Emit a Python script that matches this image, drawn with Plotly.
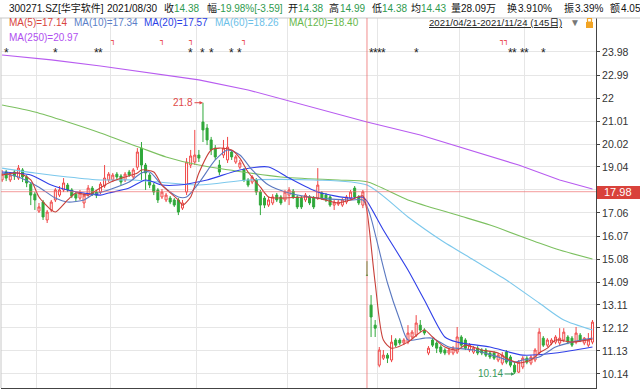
import plotly.graph_objects as go

# ---------------- data ----------------
open_ = [18.48,18.82,18.48,18.82,18.56,18.91,18.61,18.30,17.87,17.14,
         17.53,16.76,17.19,17.62,17.83,18.05,18.26,18.05,17.87,17.70,
         17.49,17.83,18.13,17.96,17.96,18.22,18.48,18.48,18.73,18.65,
         18.48,18.82,18.61,19.03,19.85,19.12,18.69,18.26,18.05,17.75,
         17.62,17.70,17.62,17.62,17.27,17.96,19.12,19.25,19.55,20.97,
         20.71,20.20,19.85,19.12,19.55,19.34,19.68,19.25,19.03,18.91,
         18.48,18.39,18.48,17.96,17.70,17.40,17.49,17.83,17.75,17.62,
         17.83,18.00,17.75,17.70,17.62,17.75,17.70,17.70,17.92,17.83,
         17.75,17.40,17.44,17.40,17.53,17.70,18.13,17.75,17.40,14.38,
         13.10,12.24,10.52,10.82,10.95,10.74,11.60,11.60,11.47,11.51,
         11.73,11.81,12.24,12.03,11.04,11.60,11.47,11.30,11.17,11.04,
         11.04,11.08,11.73,11.60,11.17,11.08,11.25,11.17,11.17,11.04,
         11.04,10.74,10.61,11.08,10.87,10.52,10.22,10.44,10.82,10.61,
         10.74,11.04,11.68,11.38,11.47,11.51,11.47,11.60,11.73,11.68,
         11.51,11.81,11.47,11.38,11.51]
high = [18.91,18.91,18.82,18.91,19.12,18.99,18.69,18.39,17.96,17.49,
        17.62,17.19,17.62,18.13,18.22,18.56,18.35,18.13,17.96,18.05,
        17.92,18.26,18.22,18.05,18.39,19.12,18.82,18.78,18.82,18.73,
        18.82,18.91,18.99,19.85,20.11,19.21,18.78,18.35,18.13,18.09,
        17.92,17.79,17.70,17.70,17.62,19.42,19.77,20.63,19.77,21.80,
        20.88,20.33,19.98,19.34,20.20,20.33,19.77,19.55,19.34,18.99,
        18.56,18.69,18.56,18.05,17.79,17.75,17.87,17.92,17.83,18.05,
        18.17,18.09,17.83,17.79,17.92,17.83,17.79,18.99,18.00,17.92,
        17.83,17.62,17.62,17.70,17.83,18.05,18.22,17.83,18.05,14.99,
        13.53,12.46,11.30,11.17,11.04,11.81,11.68,11.68,11.68,12.24,
        12.03,12.67,12.46,12.11,11.34,11.68,11.55,11.38,11.25,11.25,
        11.34,12.16,11.81,11.68,11.47,11.34,11.34,11.25,11.25,11.12,
        11.12,11.04,11.08,11.17,10.95,10.65,10.74,10.91,10.91,10.95,
        11.25,12.11,11.77,11.68,11.68,11.81,12.11,12.11,11.81,11.77,
        12.16,11.90,11.73,11.90,12.46]
low = [18.39,18.43,18.39,18.48,18.48,18.39,18.17,17.40,17.19,17.06,
       16.76,16.63,17.10,17.53,17.75,17.96,17.96,17.70,17.57,17.62,
       17.27,17.75,17.79,17.70,17.87,18.13,18.39,18.39,18.48,18.26,
       18.39,18.61,18.48,18.91,18.48,18.05,18.13,17.83,17.49,17.66,
       17.53,17.44,17.32,16.97,17.19,17.83,18.99,19.12,19.25,20.11,
       19.98,19.55,19.34,18.69,19.42,19.21,19.34,19.17,18.95,18.39,
       18.17,18.30,17.83,16.97,17.27,17.32,17.40,17.53,17.40,17.53,
       17.40,17.66,17.23,17.23,17.53,17.40,17.23,17.62,17.62,17.53,
       17.32,17.19,17.36,17.32,17.44,17.62,17.66,17.40,17.27,14.38,
       11.73,11.73,10.43,10.74,10.61,10.65,11.30,11.38,11.38,11.42,
       11.64,11.73,11.94,11.81,10.95,11.30,11.04,11.00,10.95,10.95,
       10.95,11.00,11.30,11.17,11.08,11.00,10.95,10.95,10.87,10.78,
       10.74,10.65,10.52,10.56,10.43,10.14,10.18,10.35,10.56,10.52,
       10.65,10.95,11.30,11.30,11.38,11.42,11.38,11.51,11.42,11.30,
       11.42,11.51,11.38,11.30,11.42]
close = [18.73,18.56,18.69,18.65,18.99,18.61,18.35,17.83,17.62,17.32,
         16.89,17.10,17.53,18.05,18.05,18.35,18.05,17.79,17.70,17.92,
         17.83,18.13,17.87,17.83,18.30,18.56,18.73,18.69,18.61,18.39,
         18.73,18.69,18.91,19.68,19.12,18.78,18.26,17.96,17.62,17.96,
         17.83,17.53,17.40,17.10,17.49,19.25,19.51,19.55,19.42,20.63,
         20.20,19.77,19.47,18.82,19.85,19.89,19.47,19.47,19.21,18.48,
         18.26,18.61,17.96,17.40,17.40,17.62,17.75,17.62,17.49,17.96,
         18.05,17.75,17.32,17.32,17.83,17.49,17.32,18.26,17.70,17.62,
         17.40,17.53,17.53,17.62,17.75,17.96,17.75,17.49,17.97,14.38,
         12.59,12.11,11.17,10.95,10.82,11.51,11.38,11.47,11.60,11.90,
         11.94,12.33,12.03,11.90,11.25,11.38,11.25,11.08,11.04,11.17,
         11.25,11.73,11.38,11.25,11.38,11.25,11.04,11.04,10.95,10.87,
         10.82,10.95,10.95,10.65,10.52,10.22,10.65,10.82,10.65,10.87,
         11.17,11.94,11.38,11.60,11.60,11.73,11.68,11.94,11.51,11.38,
         11.90,11.60,11.68,11.60,12.37]

ma5_idx = [0,4,7,9,12,13,16,18,21,22,26,30,33,34,37,39,43,44,46,48,
           51,53,56,58,60,63,65,68,74,77,82,85,88,89,91,93,95,99,103,105,
           108,111,113,117,121,123,126,129,131,133,135,139,144]
ma5_val = [18.69,18.78,18.48,17.75,17.19,17.10,17.62,17.92,17.83,17.92,
           18.35,18.61,18.78,18.91,18.82,18.26,17.62,17.40,17.75,18.78,
           19.77,19.85,19.77,19.42,18.82,18.17,17.75,17.70,17.75,17.70,
           17.49,17.62,17.80,17.14,14.05,11.60,11.25,11.51,12.03,11.73,
           11.30,11.17,11.38,11.17,11.04,10.82,10.61,10.74,11.04,11.25,
           11.60,11.51,11.64]
ma10_idx = [0,4,9,13,16,20,22,26,31,34,36,39,43,45,48,52,55,58,61,65,
            70,77,85,88,89,90,94,97,99,103,105,109,115,121,125,127,131,135,139,144]
ma10_val = [18.78,18.61,18.17,17.70,17.53,17.62,17.83,18.05,18.39,18.78,
            18.82,18.26,17.75,17.75,18.35,19.34,19.77,19.55,18.91,18.26,
            17.92,17.70,17.62,17.62,17.34,16.84,14.05,12.46,11.60,11.68,
            11.68,11.30,11.17,10.87,10.65,10.74,10.87,11.30,11.51,11.68]
ma20_idx = [0,7,12,16,20,24,26,31,35,39,43,50,58,65,70,77,85,88,89,93,
            99,103,108,111,119,127,135,144]
ma20_val = [18.82,18.69,18.26,18.05,17.92,17.83,17.92,18.13,18.48,18.26,
            18.26,18.48,18.91,19.04,18.56,17.96,17.70,17.74,17.57,16.33,
            14.61,13.32,11.73,11.51,11.30,10.95,11.04,11.30]
ma60_idx = [0,8,16,24,32,48,60,76,89,99,107,115,123,131,137,144]
ma60_val = [18.99,18.78,18.61,18.48,18.48,18.26,18.48,18.48,18.26,16.89,
            15.90,15.04,14.18,13.19,12.46,12.03]
ma120_idx = [0,8,16,24,34,40,48,68,82,89,99,111,119,131,136,144]
ma120_val = [21.70,21.40,20.97,20.50,19.85,19.47,19.12,18.61,18.48,18.40,
             17.62,16.97,16.54,15.77,15.47,15.08]
ma250_idx = [0,12,24,36,48,60,72,89,102,114,126,136,144]
ma250_val = [23.85,23.64,23.38,23.08,22.78,22.35,21.79,20.97,20.41,19.77,
             19.12,18.48,18.09]

tick_vals = [10.14,11.13,12.12,13.11,14.09,15.08,16.07,17.06,18.05,19.04,
             20.02,21.01,22.00,22.99,23.98]
tick_text = ["10.14","11.13","12.12","13.11","14.09","15.08","16.07","17.06","",
             "19.04","20.02","21.01","22","22.99","23.98"]
month_start_idx = [8, 26, 47, 69, 91, 111, 127]

star_idx = [1,13,23,24,46,49,51,56,58,90,91,92,93,101,124,125,127,128,132]
flag_idx = [27,39,46,59,122,123]

legend_items = [("MA(5)=17.14", "#d9453d"), ("MA(10)=17.34", "#5b7fc8"),
                ("MA(20)=17.57", "#2a3fe6"), ("MA(60)=18.26", "#6cc0e8"),
                ("MA(120)=18.40", "#68b84c"), ("MA(250)=20.97", "#b050f0")]

header_items = [("300271.SZ[华宇软件]", "#111"), ("2021/08/30", "#111"),
                ("收", "#111"), ("14.38", "#2e9a4e"), ("幅", "#111"),
                ("-19.98%[-3.59]", "#2e9a4e"), ("开", "#111"), ("14.38", "#2e9a4e"),
                ("高", "#111"), ("14.99", "#2e9a4e"), ("低", "#111"), ("14.38", "#2e9a4e"),
                ("均", "#111"), ("14.43", "#2e9a4e"), ("量", "#111"), ("28.09万", "#111"),
                ("换", "#111"), ("3.910%", "#111"), ("振", "#111"), ("3.39%", "#111"),
                ("额", "#111"), ("4.05亿", "#111")]
cross_idx = 89
cross_price = 17.98
hi_idx, hi_price = 49, 21.8
lo_idx, lo_price = 125, 10.14

# ---------------- layout helpers ----------------
W, H = 640, 389
PL, PR, PT, PB = 1, 596, 18, 388
def fx(x):
    return (x - PL) / (PR - PL)
def fy(y):
    return (PB - y) / (PB - PT)

FONT = "Liberation Sans, Arial, Noto Sans CJK SC, sans-serif"
x_idx = list(range(len(close)))

fig = go.Figure()
fig.add_trace(go.Candlestick(
    x=x_idx, open=open_, high=high, low=low, close=close,
    increasing=dict(line=dict(color="#f04646", width=1), fillcolor="#ffffff"),
    decreasing=dict(line=dict(color="#2fa83a", width=1), fillcolor="#2fa83a"),
    whiskerwidth=0, hoverinfo="skip", showlegend=False))

for xs, ys, col, shp in [(ma250_idx, ma250_val, "#b85cf0", "linear"),
                         (ma120_idx, ma120_val, "#7cc060", "spline"),
                         (ma60_idx, ma60_val, "#7cc8ec", "spline"),
                         (ma20_idx, ma20_val, "#2f3fe8", "spline"),
                         (ma10_idx, ma10_val, "#5a78c0", "spline"),
                         (ma5_idx, ma5_val, "#c8403a", "spline")]:
    fig.add_trace(go.Scatter(x=xs, y=ys, mode="lines",
                             line=dict(color=col, width=1.1, shape=shp, smoothing=0.7),
                             hoverinfo="skip", showlegend=False))

ann = []
# header
hx = [7, 105, 162, 172, 205, 215, 286, 296, 327, 338, 370, 380, 409, 419, 449, 459,
      505, 516, 562, 573, 608, 619]
for (t, c), x in zip(header_items, hx):
    ann.append(dict(text=t, x=fx(x), y=fy(8), xref="paper", yref="paper",
                    xanchor="left", yanchor="middle", showarrow=False,
                    font=dict(size=10, color=c, family=FONT)))
# legend
lx = [(7, 23), (72, 23), (142, 23), (213, 23), (287, 23), (7, 37)]
for (t, c), (x, y) in zip(legend_items, lx):
    ann.append(dict(text=t, x=fx(x), y=fy(y), xref="paper", yref="paper",
                    xanchor="left", yanchor="middle", showarrow=False,
                    font=dict(size=10, color=c, family=FONT)))
ann.append(dict(text="<u>2021/04/21-2021/11/24 (145日)</u>", x=fx(427), y=fy(23),
                xref="paper", yref="paper", xanchor="left", yanchor="middle",
                showarrow=False, font=dict(size=9.6, color="#222", family=FONT)))
ann.append(dict(text="▼", x=fx(575), y=fy(23), xref="paper", yref="paper",
                xanchor="center", yanchor="middle", showarrow=False,
                font=dict(size=10, color="#777", family=FONT)))
# event markers
for i in star_idx:
    ann.append(dict(text="*", x=i, y=fy(53), xref="x", yref="paper",
                    xanchor="center", yanchor="middle", showarrow=False,
                    font=dict(size=12, color="#222", family=FONT)))
for i in flag_idx:
    ann.append(dict(text="┐", x=i, y=fy(41), xref="x", yref="paper",
                    xanchor="center", yanchor="middle", showarrow=False,
                    font=dict(size=8, color="#e83030", family="DejaVu Sans")))
# extremes
ann.append(dict(text="21.8", x=hi_idx, y=hi_price, xref="x", yref="y", ax=-20, ay=0,
                showarrow=True, arrowhead=2, arrowsize=0.7, arrowwidth=1,
                arrowcolor="#e04848", font=dict(size=10, color="#e04848", family=FONT)))
ann.append(dict(text="10.14", x=lo_idx, y=lo_price, xref="x", yref="y", ax=-24, ay=0,
                showarrow=True, arrowhead=2, arrowsize=0.7, arrowwidth=1,
                arrowcolor="#3a9a5a", font=dict(size=10, color="#3a9a5a", family=FONT)))
# crosshair price label
ann.append(dict(text=f"{cross_price:.2f}", x=fx(618), y=cross_price, xref="paper", yref="y",
                xanchor="center", yanchor="middle", showarrow=False,
                font=dict(size=11, color="#ffffff", family=FONT)))

shapes = [
    dict(type="line", xref="paper", yref="paper", x0=fx(0), x1=fx(640), y0=fy(18), y1=fy(18),
         line=dict(color="#c8c8c8", width=1)),
    dict(type="line", xref="paper", yref="paper", x0=0, x1=0, y0=0, y1=1,
         line=dict(color="#c8c8c8", width=1)),
    dict(type="line", xref="x", yref="paper", x0=cross_idx, x1=cross_idx, y0=0, y1=1,
         line=dict(color="rgba(238,110,110,0.65)", width=1.2)),
    dict(type="line", xref="paper", yref="y", x0=0, x1=1, y0=cross_price, y1=cross_price,
         line=dict(color="rgba(238,110,110,0.55)", width=1.2)),
    dict(type="rect", xref="paper", yref="paper", x0=fx(597), x1=fx(640), y0=fy(199), y1=fy(186),
         fillcolor="#d9423b", line=dict(width=0)),
    dict(type="rect", xref="paper", yref="paper", x0=fx(586), x1=fx(593), y0=fy(28), y1=fy(22),
         fillcolor="#f2a424", line=dict(width=0)),
    dict(type="rect", xref="paper", yref="paper", x0=fx(587.5), x1=fx(591.5), y0=fy(22), y1=fy(18.5),
         fillcolor="rgba(0,0,0,0)", line=dict(color="#f2a424", width=1.2)),
]

fig.update_layout(
    width=W, height=H, margin=dict(l=PL, r=W - PR, t=PT, b=H - PB),
    paper_bgcolor="#ffffff", plot_bgcolor="#ffffff",
    showlegend=False, annotations=ann, shapes=shapes,
    font=dict(family=FONT, size=11, color="#333"),
    xaxis=dict(range=[-0.26, 144.86], tickvals=[m + 0.5 for m in month_start_idx],
               showticklabels=False, ticks="", showgrid=True, gridcolor="#e6e6e6",
               gridwidth=1, zeroline=False, showline=True, linecolor="#444",
               rangeslider=dict(visible=False), fixedrange=True),
    yaxis=dict(side="right", range=[9.538, 25.441], tickvals=tick_vals, ticktext=tick_text,
               showgrid=True, gridcolor="#e6e6e6", zeroline=False, showline=True,
               linecolor="#444", ticks="outside", ticklen=3, tickcolor="#444",
               tickfont=dict(size=10.5, color="#333", family=FONT), fixedrange=True),
)

fig.write_html("out.html", config={"displayModeBar": False},
               post_script="document.body.style.margin='0';document.body.style.padding='0';")
